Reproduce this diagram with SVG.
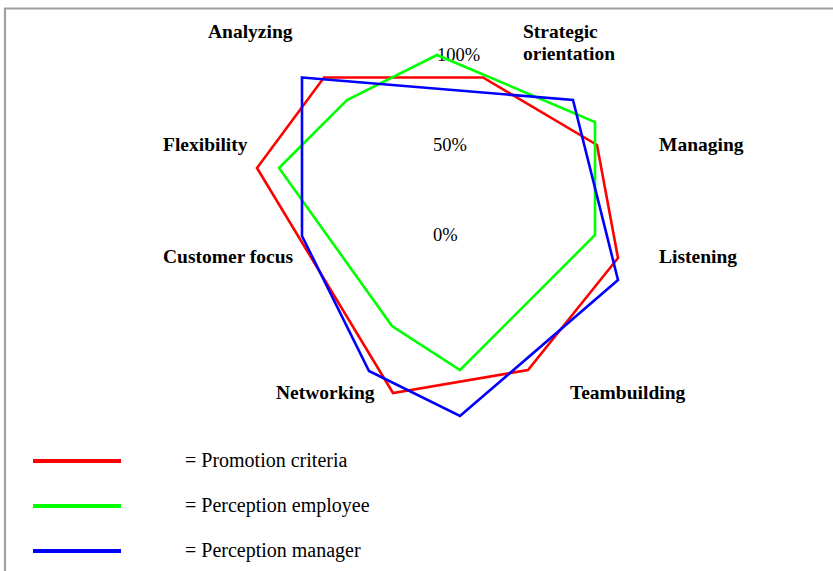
<svg xmlns="http://www.w3.org/2000/svg" width="833" height="571" viewBox="0 0 833 571">
<style>
.lbl{font-family:"Liberation Serif","Times New Roman",serif;font-size:19.5px;font-weight:bold;fill:#000}
.pct{font-family:"Liberation Serif","Times New Roman",serif;font-size:18.5px;fill:#000}
.leg{font-family:"Liberation Serif","Times New Roman",serif;font-size:20px;fill:#000}
.ser{fill:none;stroke-width:2.6;stroke-linejoin:miter}
</style>
<rect width="833" height="571" fill="#fff"/>
<g id="frame" fill="none" stroke="#a0a0a0" stroke-width="2.2">
<polyline points="5,571 5,8.5 833,8.5"/>
</g>
<g id="labels">
<text class="lbl" x="208" y="38">Analyzing</text>
<text class="lbl" x="523" y="38">Strategic</text>
<text class="lbl" x="523" y="60">orientation</text>
<text class="lbl" x="659" y="151">Managing</text>
<text class="lbl" x="163" y="151">Flexibility</text>
<text class="lbl" x="163" y="263">Customer focus</text>
<text class="lbl" x="659" y="263">Listening</text>
<text class="lbl" x="276" y="399">Networking</text>
<text class="lbl" x="570" y="399">Teambuilding</text>
<text class="pct" x="437" y="61">100%</text>
<text class="pct" x="433" y="151">50%</text>
<text class="pct" x="433" y="241">0%</text>
</g>
<g id="series">
<polygon id="promotion" class="ser" stroke="#ff0000" points="324,77.5 483,77.5 597,145 618,258 528,370 393,393 257,168"/>
<polygon id="employee" class="ser" stroke="#00ff00" points="437,55 595,122 595,235 460,370 392,326 279,168 347,100"/>
<polygon id="manager" class="ser" stroke="#0000ff" points="302,77.5 573,100 618,280 460,416 369,371 302,236"/>
</g>
<g id="legend">
<line x1="33" y1="461" x2="121" y2="461" stroke="#ff0000" stroke-width="4"/>
<line x1="33" y1="506" x2="121" y2="506" stroke="#00ff00" stroke-width="4"/>
<line x1="33" y1="551" x2="121" y2="551" stroke="#0000ff" stroke-width="4"/>
<text class="leg" x="185" y="467">= Promotion criteria</text>
<text class="leg" x="185" y="512">= Perception employee</text>
<text class="leg" x="185" y="557">= Perception manager</text>
</g>
</svg>
